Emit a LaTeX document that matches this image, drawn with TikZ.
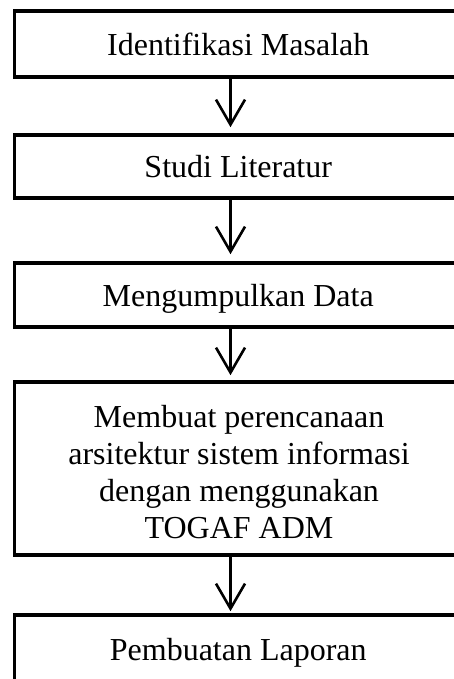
\documentclass[tikz,border=0pt]{standalone}
\usepackage{fontspec}
\setmainfont{Liberation Serif}
\usetikzlibrary{arrows.meta}
\tikzset{
  stepbox/.style={draw=black, line width=3.6pt, rectangle, inner sep=0pt,
    minimum width=447.5pt, font=\fontsize{32}{37}\selectfont,
    text height=23pt, text depth=0pt},
  flow/.style={line width=2.2pt, -{Straight Barb[length=25pt,width=29pt,line width=2.6pt]}}
}
\begin{document}
\begin{tikzpicture}[x=1pt,y=1pt]
  \useasboundingbox (0,0) rectangle (454,679);
  \coordinate (ax) at (230.5,0);
  \node[stepbox, minimum height=66pt] (b1) at (238.25,635) {Identifikasi Masalah};
  \node[stepbox, minimum height=63pt] (b2) at (238.25,512.5) {Studi Literatur};
  \node[stepbox, minimum height=64pt] (b3) at (238.25,384) {Mengumpulkan Data};
  \node[stepbox, minimum height=173pt] (b4) at (238.25,210.5) {};
  \node[font=\fontsize{32}{37}\selectfont, align=center, inner sep=0pt] (t4) at (239,207)
    {Membuat perencanaan\\arsitektur sistem informasi\\dengan menggunakan\\TOGAF ADM};
  \node[stepbox, minimum height=69pt] (b5) at (238.25,29.5) {Pembuatan Laporan};
  \draw[flow, shorten >=6pt] (b1.south -| ax) -- (b2.north -| ax);
  \draw[flow, shorten >=7pt] (b2.south -| ax) -- (b3.north -| ax);
  \draw[flow, shorten >=5pt] (b3.south -| ax) -- (b4.north -| ax);
  \draw[flow, shorten >=2pt] (b4.south -| ax) -- (b5.north -| ax);
\end{tikzpicture}
\end{document}
